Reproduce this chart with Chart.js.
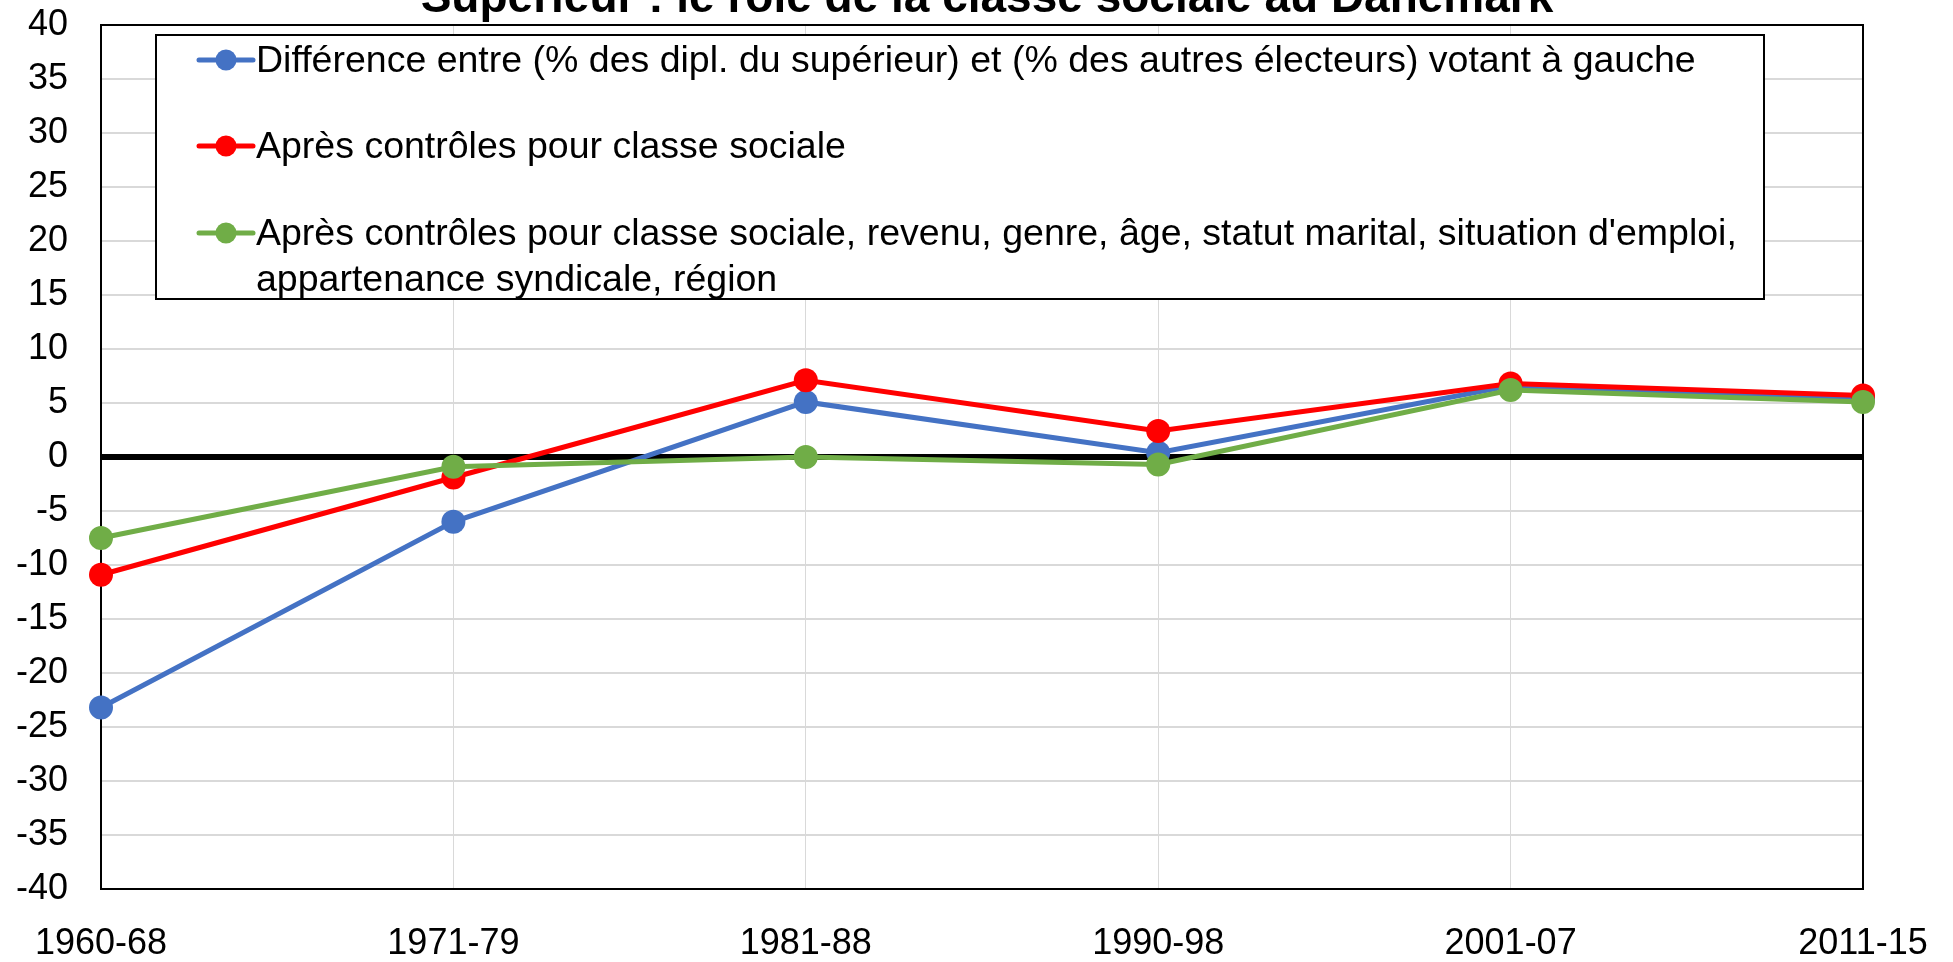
<!DOCTYPE html>
<html>
<head>
<meta charset="utf-8">
<script src="https://cdn.jsdelivr.net/npm/chart.js@4/dist/chart.umd.min.js"></script>
<style>
html, body { margin: 0; padding: 0; background: #fff; overflow: hidden; }
#wrap { width: 1953px; height: 962px; }
</style>
</head>
<body>
<div id="wrap"><canvas id="chart" width="1953" height="962"></canvas></div>
<script>
// périodes et séries
const periods = ['1960-68', '1971-79', '1981-88', '1990-98', '2001-07', '2011-15'];
const diffRaw = [-23.2, -6.0, 5.1, 0.4, 6.6, 5.4];
const afterClass = [-10.9, -1.9, 7.1, 2.4, 6.8, 5.7];
const afterAll = [-7.5, -0.9, 0.0, -0.7, 6.2, 5.1];
const yMin = -40;
const yMax = 40;
const yStep = 5;
const seriesNames = [
    ['Différence entre (% des dipl. du supérieur) et (% des autres électeurs) votant à gauche'],
    ['Après contrôles pour classe sociale'],
    ["Après contrôles pour classe sociale, revenu, genre, âge, statut marital, situation d'emploi,", 'appartenance syndicale, région']
];
const seriesColors = ['#4472C4', '#FF0000', '#70AD47'];
const titleText = 'Supérieur : le rôle de la classe sociale au Danemark';

const FONT = '"Liberation Sans", Arial, sans-serif';

// cadre du graphique, titre coupé et légende encadrée
const extras = {
    id: 'extras',
    beforeDatasetsDraw(chart) {
        const ctx = chart.ctx;
        const a = chart.chartArea;
        ctx.save();
        ctx.strokeStyle = '#000';
        ctx.lineWidth = 2;
        ctx.strokeRect(a.left, a.top, a.right - a.left, a.bottom - a.top);
        ctx.restore();
    },
    afterDraw(chart) {
        const ctx = chart.ctx;
        ctx.save();
        // titre (en partie hors du cadre)
        ctx.fillStyle = '#000';
        ctx.font = 'bold 46px ' + FONT;
        ctx.textAlign = 'center';
        ctx.textBaseline = 'alphabetic';
        ctx.fillText(titleText, 987, 12);

        // légende
        const box = { x: 156, y: 35, w: 1608, h: 264 };
        ctx.fillStyle = '#fff';
        ctx.fillRect(box.x, box.y, box.w, box.h);
        ctx.strokeStyle = '#000';
        ctx.lineWidth = 2;
        ctx.strokeRect(box.x, box.y, box.w, box.h);

        const rows = [60, 146, 233];
        ctx.font = '37.5px ' + FONT;
        ctx.textAlign = 'left';
        ctx.textBaseline = 'middle';
        chart.data.datasets.forEach((ds, i) => {
            const y = rows[i];
            ctx.strokeStyle = ds.borderColor;
            ctx.lineWidth = 5;
            ctx.lineCap = 'round';
            ctx.beginPath();
            ctx.moveTo(199, y);
            ctx.lineTo(253, y);
            ctx.stroke();
            ctx.fillStyle = ds.borderColor;
            ctx.beginPath();
            ctx.arc(226, y, 10.5, 0, Math.PI * 2);
            ctx.fill();
            ctx.fillStyle = '#000';
            seriesNames[i].forEach((line, k) => {
                ctx.fillText(line, 256, y + 2 + k * 46);
            });
        });
        ctx.restore();
    }
};

const canvas = document.querySelector('#chart').getContext('2d');
const series = [diffRaw, afterClass, afterAll];

new Chart(canvas, {
    type: 'line',
    data: {
        labels: periods,
        datasets: series.map((vals, i) => ({
            label: seriesNames[i].join(' '),
            data: vals,
            borderColor: seriesColors[i],
            backgroundColor: seriesColors[i],
            pointBackgroundColor: seriesColors[i],
            pointBorderWidth: 0,
            pointRadius: 12,
            borderWidth: 5,
            tension: 0,
            clip: false,
            order: 3 - i
        }))
    },
    options: {
        responsive: false,
        animation: false,
        layout: { padding: { top: 25, right: 90, bottom: 0, left: 0 } },
        plugins: {
            legend: { display: false },
            title: { display: false },
            tooltip: { enabled: false }
        },
        scales: {
            x: {
                afterFit: (s) => { s.height = 73; s.paddingLeft = 0; s.paddingRight = 0; },
                grid: { color: '#d9d9d9', lineWidth: 1, drawTicks: false },
                border: { color: '#000', width: 2 },
                ticks: {
                    color: '#000',
                    font: { family: FONT, size: 36, lineHeight: 1 },
                    padding: 37,
                    maxRotation: 0,
                    autoSkip: false
                }
            },
            y: {
                min: yMin,
                max: yMax,
                afterFit: (s) => { s.width = 101; s.paddingTop = 0; s.paddingBottom = 0; },
                grid: {
                    drawTicks: false,
                    color: (c) => c.tick && c.tick.value === 0 ? '#000' : '#d9d9d9',
                    lineWidth: (c) => c.tick && c.tick.value === 0 ? 6 : 2
                },
                border: { color: '#000', width: 2 },
                ticks: {
                    stepSize: yStep,
                    color: '#000',
                    font: { family: FONT, size: 36, lineHeight: 1 },
                    padding: 33
                }
            }
        }
    },
    plugins: [extras]
});
</script>
</body>
</html>
